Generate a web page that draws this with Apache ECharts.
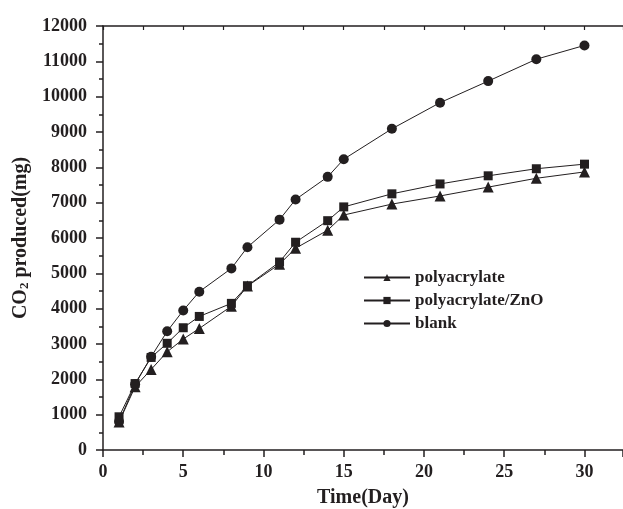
<!DOCTYPE html>
<html>
<head>
<meta charset="utf-8">
<script src="https://cdn.jsdelivr.net/npm/echarts@6/dist/echarts.min.js"></script>
<style>
    html, body { margin: 0; padding: 0; background: #fff; }
    #chartId { width: 623px; height: 509px; }
</style>
</head>
<body>
<div id="chartId"></div>
<script>
// 時間 (day)
const days = [1, 2, 3, 4, 5, 6, 8, 9, 11, 12, 14, 15, 18, 21, 24, 27, 30];
// CO2 produced (mg)
const polyacrylate    = [790, 1790, 2280, 2780, 3140, 3440, 4070, 4640, 5260, 5710, 6220, 6650, 6960, 7190, 7440, 7690, 7870];
const polyacrylateZnO = [940, 1880, 2620, 3020, 3460, 3780, 4150, 4650, 5320, 5880, 6490, 6880, 7250, 7530, 7760, 7960, 8090];
const blank           = [800, 1860, 2640, 3360, 3950, 4480, 5140, 5740, 6520, 7090, 7730, 8230, 9090, 9830, 10440, 11060, 11450];

const seriesNames = ["polyacrylate", "polyacrylate/ZnO", "blank"];
const textColor = "#231f20";
const font = "'Liberation Serif', 'DejaVu Serif', serif";

function pairs(xs, ys){
    let out = [];
    for(let i = 0; i < xs.length; i++){
        out.push([xs[i], ys[i]]);
    }
    return out;
}

var chart = echarts.init(document.getElementById('chartId'));

function makeSeries(name, data, symbol, size){
    return {
        name: name,
        type: 'line',
        data: pairs(days, data),
        symbol: symbol,
        symbolSize: size,
        showSymbol: true,
        animation: false,
        itemStyle: { color: textColor },
        lineStyle: { color: textColor, width: 1 }
    };
}

var axisLine = { show: true, onZero: false, lineStyle: { color: textColor, width: 1.5 } };

var option = {
    backgroundColor: '#fff',
    grid: {
        left: 103,
        top: 26,
        right: 0,
        bottom: 59,
        containLabel: false,
        outerBoundsMode: 'none'
    },
    legend: {
        orient: 'vertical',
        left: 358,
        top: 264,
        itemWidth: 46,
        itemHeight: 9,
        itemGap: 6,
        data: seriesNames,
        textStyle: {
            color: textColor,
            fontFamily: font,
            fontWeight: 'bold',
            fontSize: 17
        }
    },
    xAxis: [
        {
            type: 'value',
            min: 0,
            max: 32.4,
            interval: 5,
            position: 'bottom',
            name: 'Time(Day)',
            nameLocation: 'middle',
            nameGap: 38,
            nameTextStyle: {
                color: textColor,
                fontFamily: font,
                fontWeight: 'bold',
                fontSize: 20
            },
            axisLine: axisLine,
            axisTick: { show: true, length: 7, lineStyle: { color: textColor, width: 1.5 } },
            minorTick: { show: true, splitNumber: 2, length: 5, lineStyle: { color: textColor, width: 1.5 } },
            splitLine: { show: false },
            axisLabel: {
                margin: 13,
                color: textColor,
                fontFamily: font,
                fontWeight: 'bold',
                fontSize: 18,
                formatter: function(v){ return v % 5 === 0 ? String(v) : ''; }
            }
        },
        {
            type: 'value',
            min: 0,
            max: 32.4,
            interval: 5,
            position: 'top',
            axisLine: axisLine,
            axisTick: { show: true, inside: true, length: 4, lineStyle: { color: textColor, width: 1.2 } },
            minorTick: { show: true, splitNumber: 2, length: 4, lineStyle: { color: textColor, width: 1.2 } },
            splitLine: { show: false },
            axisLabel: { show: false }
        }
    ],
    yAxis: {
        type: 'value',
        min: 0,
        max: 12000,
        interval: 1000,
        name: 'CO{sub|2} produced(mg)',
        nameLocation: 'middle',
        nameGap: 70,
        nameRotate: 90,
        nameTextStyle: {
            color: textColor,
            fontFamily: font,
            fontWeight: 'bold',
            fontSize: 20,
            rich: {
                sub: {
                    color: textColor,
                    fontFamily: font,
                    fontWeight: 'bold',
                    fontSize: 13,
                    verticalAlign: 'bottom',
                    padding: [8, 0, 0, 0]
                }
            }
        },
        axisLine: axisLine,
        axisTick: { show: true, length: 7, lineStyle: { color: textColor, width: 1.5 } },
        minorTick: { show: true, splitNumber: 2, length: 4, lineStyle: { color: textColor, width: 1.5 } },
        splitLine: { show: false },
        axisLabel: {
            margin: 16,
            color: textColor,
            fontFamily: font,
            fontWeight: 'bold',
            fontSize: 18,
            formatter: function(v){ return String(v); }
        }
    },
    series: [
        makeSeries(seriesNames[0], polyacrylate, 'triangle', 11),
        makeSeries(seriesNames[1], polyacrylateZnO, 'rect', 9),
        makeSeries(seriesNames[2], blank, 'circle', 10)
    ]
};

chart.setOption(option);
</script>
</body>
</html>
